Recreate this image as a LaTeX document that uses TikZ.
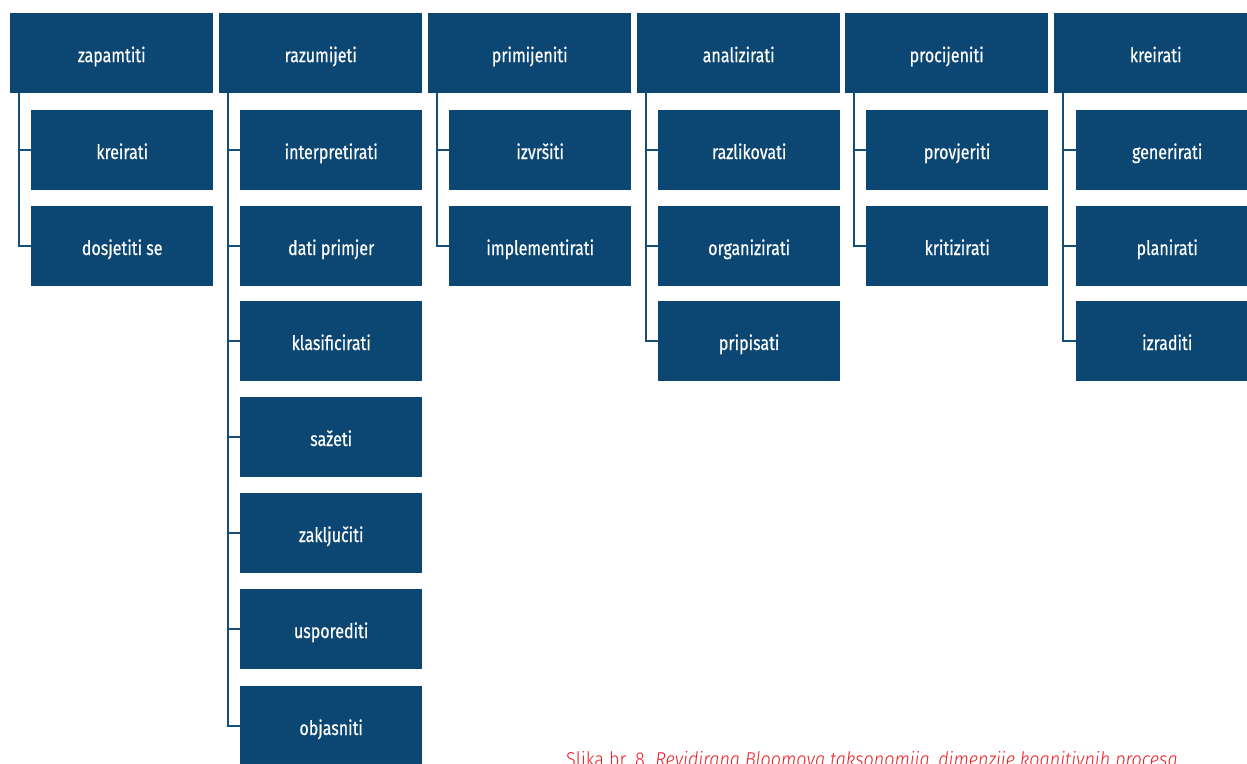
\documentclass[tikz,border=0pt]{standalone}
\usepackage{fontspec}
\setmainfont{Fira Sans}[FakeStretch=0.8,FakeBold=0.4]
\newfontfamily\capfont{Fira Sans Light}[FakeStretch=0.9]
\definecolor{boxblue}{RGB}{12,71,115}
\definecolor{linkblue}{RGB}{22,78,122}
\definecolor{capred}{RGB}{237,28,36}
\begin{document}
\begin{tikzpicture}[x=1pt,y=-1pt,
  boxtext/.style={fill=boxblue,text=white,minimum height=80pt,inner sep=0pt,text height=18pt,text depth=0pt,font=\fontsize{20}{22}\selectfont},
  head/.style={boxtext,minimum width=203pt,anchor=north west},
  leaf/.style={boxtext,minimum width=182pt,anchor=west},
  link/.style={draw=linkblue,line width=2pt}]
\useasboundingbox (0,0) rectangle (1247,763);
\clip (0,0) rectangle (1247,763);
% level headings
\node[head] (t1) at (10,13) {zapamtiti};
\node[head] (t2) at (219,13) {razumijeti};
\node[head] (t3) at (428,13) {primijeniti};
\node[head] (t4) at (637,13) {analizirati};
\node[head] (t5) at (845,13) {procijeniti};
\node[head] (t6) at (1054,13) {kreirati};
% sub-processes
\node[leaf] (a1) at (31,150) {kreirati};
\node[leaf] (a2) at (31,246) {dosjetiti se};
\node[leaf] (b1) at (240,150) {interpretirati};
\node[leaf] (b2) at (240,246) {dati primjer};
\node[leaf] (b3) at (240,341) {klasificirati};
\node[leaf] (b4) at (240,437) {sažeti};
\node[leaf] (b5) at (240,533) {zaključiti};
\node[leaf] (b6) at (240,629) {usporediti};
\node[leaf] (b7) at (240,726) {objasniti};
\node[leaf] (c1) at (449,150) {izvršiti};
\node[leaf] (c2) at (449,246) {implementirati};
\node[leaf] (d1) at (658,150) {razlikovati};
\node[leaf] (d2) at (658,246) {organizirati};
\node[leaf] (d3) at (658,341) {pripisati};
\node[leaf] (e1) at (866,150) {provjeriti};
\node[leaf] (e2) at (866,246) {kritizirati};
\node[leaf] (f1) at (1076,150) {generirati};
\node[leaf] (f2) at (1076,246) {planirati};
\node[leaf] (f3) at (1076,341) {izraditi};
% connectors: spine from heading, branch to each sub-process
\foreach \t/\list in {t1/{a1,a2}, t2/{b1,b2,b3,b4,b5,b6,b7}, t3/{c1,c2}, t4/{d1,d2,d3}, t5/{e1,e2}, t6/{f1,f2,f3}}{
  \foreach \c in \list {
    \draw[link] ([xshift=9pt]\t.south west) |- (\c.west);
  }
}
% caption
\node[anchor=base west,text=capred,font=\capfont\fontsize{20}{22}\selectfont,inner sep=0pt] (cap) at (566,766) {Slika br. 8. \textit{Revidirana Bloomova taksonomija, dimenzije kognitivnih procesa}};
\end{tikzpicture}
\end{document}
